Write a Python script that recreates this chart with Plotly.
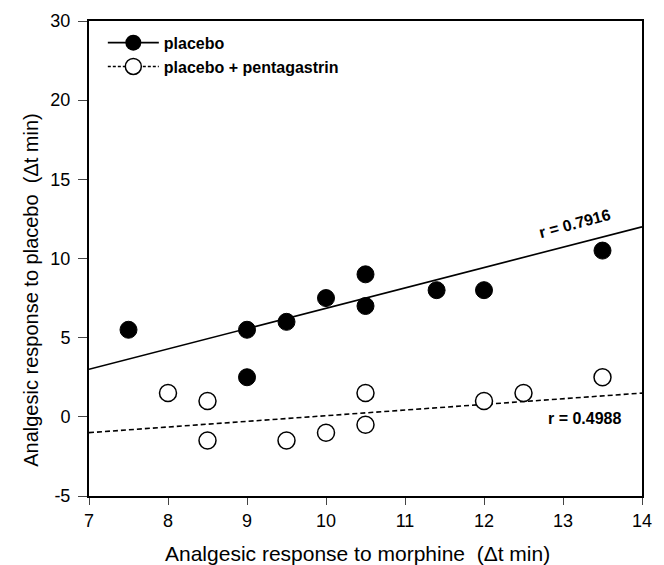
import plotly.graph_objects as go

# Data
placebo_x = [7.5, 9.0, 9.0, 9.5, 10.0, 10.5, 10.5, 11.4, 12.0, 13.5]
placebo_y = [5.5, 5.5, 2.5, 6.0, 7.5, 9.0, 7.0, 8.0, 8.0, 10.5]
penta_x = [8.0, 8.5, 8.5, 9.5, 10.0, 10.5, 10.5, 12.0, 12.5, 13.5]
penta_y = [1.5, 1.0, -1.5, -1.5, -1.0, 1.5, -0.5, 1.0, 1.5, 2.5]
fit_x = [7, 14]
fit_placebo = [3.0, 12.0]
fit_penta = [-1.0, 1.5]
x_ticks = [7, 8, 9, 10, 11, 12, 13, 14]
y_tickvals = [-5, 0, 5, 10, 15, 20, 25]
y_ticktext = ["-5", "0", "5", "10", "15", "20", "30"]
r_labels = ["r = 0.7916", "r = 0.4988"]
x_title = "Analgesic response to morphine  (\u0394t min)"
y_title = "Analgesic response to placebo  (\u0394t min)"

FONT = "Liberation Sans, Arial, sans-serif"

fig = go.Figure()
# regression lines
fig.add_trace(go.Scatter(x=fit_x, y=fit_placebo, mode="lines",
                         line=dict(color="black", width=1.6), showlegend=False))
fig.add_trace(go.Scatter(x=fit_x, y=fit_penta, mode="lines",
                         line=dict(color="black", width=1.6, dash="5px,3px"), showlegend=False))
# points
fig.add_trace(go.Scatter(x=placebo_x, y=placebo_y, mode="markers",
                         marker=dict(size=17, color="black", line=dict(color="black", width=1)),
                         showlegend=False))
fig.add_trace(go.Scatter(x=penta_x, y=penta_y, mode="markers",
                         marker=dict(size=17, color="white", line=dict(color="black", width=1.5)),
                         showlegend=False))
# legend entries
fig.add_trace(go.Scatter(x=[None], y=[None], mode="lines+markers", name="<b>placebo</b>",
                         line=dict(color="black", width=1.6),
                         marker=dict(size=16, color="black")))
fig.add_trace(go.Scatter(x=[None], y=[None], mode="lines+markers", name="<b>placebo + pentagastrin</b>",
                         line=dict(color="black", width=1.5, dash="3px,2px"),
                         marker=dict(size=16, color="white", line=dict(color="black", width=1.5))))

fig.add_annotation(x=13.15, y=12.2, text="<b>" + r_labels[0] + "</b>", showarrow=False, textangle=-15,
                   font=dict(family=FONT, size=16, color="black"))
fig.add_annotation(x=13.28, y=-0.1, text="<b>" + r_labels[1] + "</b>", showarrow=False,
                   font=dict(family=FONT, size=16, color="black"))
# axis titles
fig.add_annotation(xref="paper", yref="paper", x=0.486, y=-0.12, text=x_title,
                   showarrow=False, xanchor="center", yanchor="middle",
                   font=dict(family=FONT, size=21, color="black"))
fig.add_annotation(xref="paper", yref="paper", x=-0.105, y=0.434, text=y_title,
                   showarrow=False, xanchor="center", yanchor="middle", textangle=-90,
                   font=dict(family=FONT, size=20, color="black"))

fig.update_layout(
    width=664, height=565,
    margin=dict(l=81, r=30, t=13, b=77),
    paper_bgcolor="white", plot_bgcolor="white",
    font=dict(family=FONT, color="black", size=16),
    legend=dict(x=0.025, y=0.99, xanchor="left", yanchor="top",
                bgcolor="rgba(0,0,0,0)", font=dict(size=16, family=FONT),
                tracegroupgap=0, itemwidth=51),
    showlegend=True,
)
fig.update_xaxes(range=[7, 14], tickvals=x_ticks, ticks="outside", ticklen=7,
                 showline=True, linecolor="black", linewidth=2, mirror=True,
                 showgrid=False, zeroline=False, tickfont=dict(size=18), automargin=False)
fig.update_yaxes(range=[-5, 25], tickvals=y_tickvals, ticktext=y_ticktext,
                 ticks="outside", ticklen=9, ticklabelstandoff=4,
                 showline=True, linecolor="black", linewidth=2, mirror=True,
                 showgrid=False, zeroline=False, tickfont=dict(size=18), automargin=False)

fig.write_html("out.html")
